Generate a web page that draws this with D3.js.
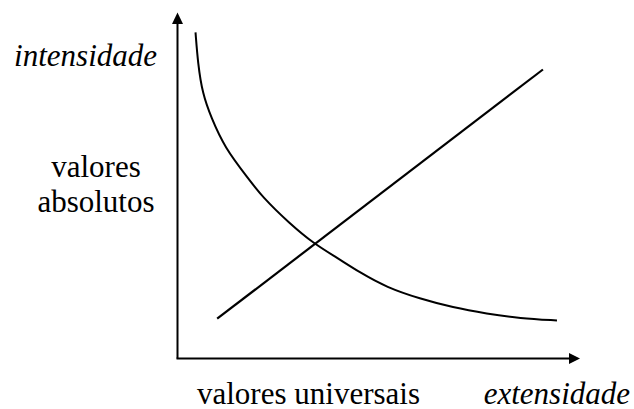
<!DOCTYPE html>
<html>
<head>
<meta charset="utf-8">
<script src="https://cdn.jsdelivr.net/npm/d3@7"></script>
<style>
  html, body { margin: 0; padding: 0; background: #fff; }
  .lbl { font-family: "Liberation Serif", "DejaVu Serif", serif; font-size: 31px; fill: #000; }
</style>
</head>
<body>
<svg id="chart" width="634" height="409"></svg>
<script>
// curve values (extensidade, intensidade)
const curveX = [4.5, 5.1, 6.25, 8.4, 11.75, 17.5, 21.25, 28, 34, 39.75, 45.5, 52.25, 60.5, 68.75, 77.25, 85.5, 94.75];
const curveY = [95.9, 86.8, 77.9, 70.9, 62.1, 53.2, 47.4, 39.7, 33.8, 29.7, 25.3, 20.9, 17.6, 15, 13.2, 11.8, 11.2];
// straight line
const lineX = [9.9, 91.25];
const lineY = [11.7, 85];
const yLabels = ["valores", "absolutos"];

const svg = d3.select("#chart");
const x = d3.scaleLinear().domain([0, 100]).range([177.5, 578]);
const y = d3.scaleLinear().domain([0, 100]).range([358.5, 18.5]);

// axes
svg.append("line")
    .attr("x1", x(0)).attr("y1", y(0))
    .attr("x2", x(0)).attr("y2", y(100) - 1)
    .attr("stroke", "#000").attr("stroke-width", 2);
svg.append("line")
    .attr("x1", x(0) - 1).attr("y1", y(0))
    .attr("x2", x(98)).attr("y2", y(0))
    .attr("stroke", "#000").attr("stroke-width", 2);

// arrow heads
svg.append("path")
    .attr("d", `M${x(0)},${y(100) - 6} L${x(0) - 5.5},${y(100) + 5.5} L${x(0) + 5.5},${y(100) + 5.5} Z`)
    .attr("fill", "#000");
svg.append("path")
    .attr("d", `M${x(100) + 2},${y(0)} L${x(100) - 9},${y(0) - 5.5} L${x(100) - 9},${y(0) + 5.5} Z`)
    .attr("fill", "#000");

// decreasing curve
const curvePts = curveX.map((d, i) => [d, curveY[i]]);
svg.append("path")
    .attr("d", d3.line().x(d => x(d[0])).y(d => y(d[1])).curve(d3.curveBasis)(curvePts))
    .attr("fill", "none").attr("stroke", "#000").attr("stroke-width", 2);

// increasing straight line
const linePts = lineX.map((d, i) => [d, lineY[i]]);
svg.append("path")
    .attr("d", d3.line().x(d => x(d[0])).y(d => y(d[1]))(linePts))
    .attr("fill", "none").attr("stroke", "#000").attr("stroke-width", 2.2);

// labels
function label(txt, px, py, anchor, italic) {
  svg.append("text")
      .attr("class", "lbl")
      .attr("x", px).attr("y", py)
      .attr("text-anchor", anchor)
      .style("font-style", italic ? "italic" : "normal")
      .text(txt);
}
label("intensidade", 157, 66, "end", true);
yLabels.forEach((d, i) => label(d, 96, 177 + i * 35, "middle", false));
label("valores universais", 197, 404, "start", false);
label("extensidade", 630, 404, "end", true);
</script>
</body>
</html>
